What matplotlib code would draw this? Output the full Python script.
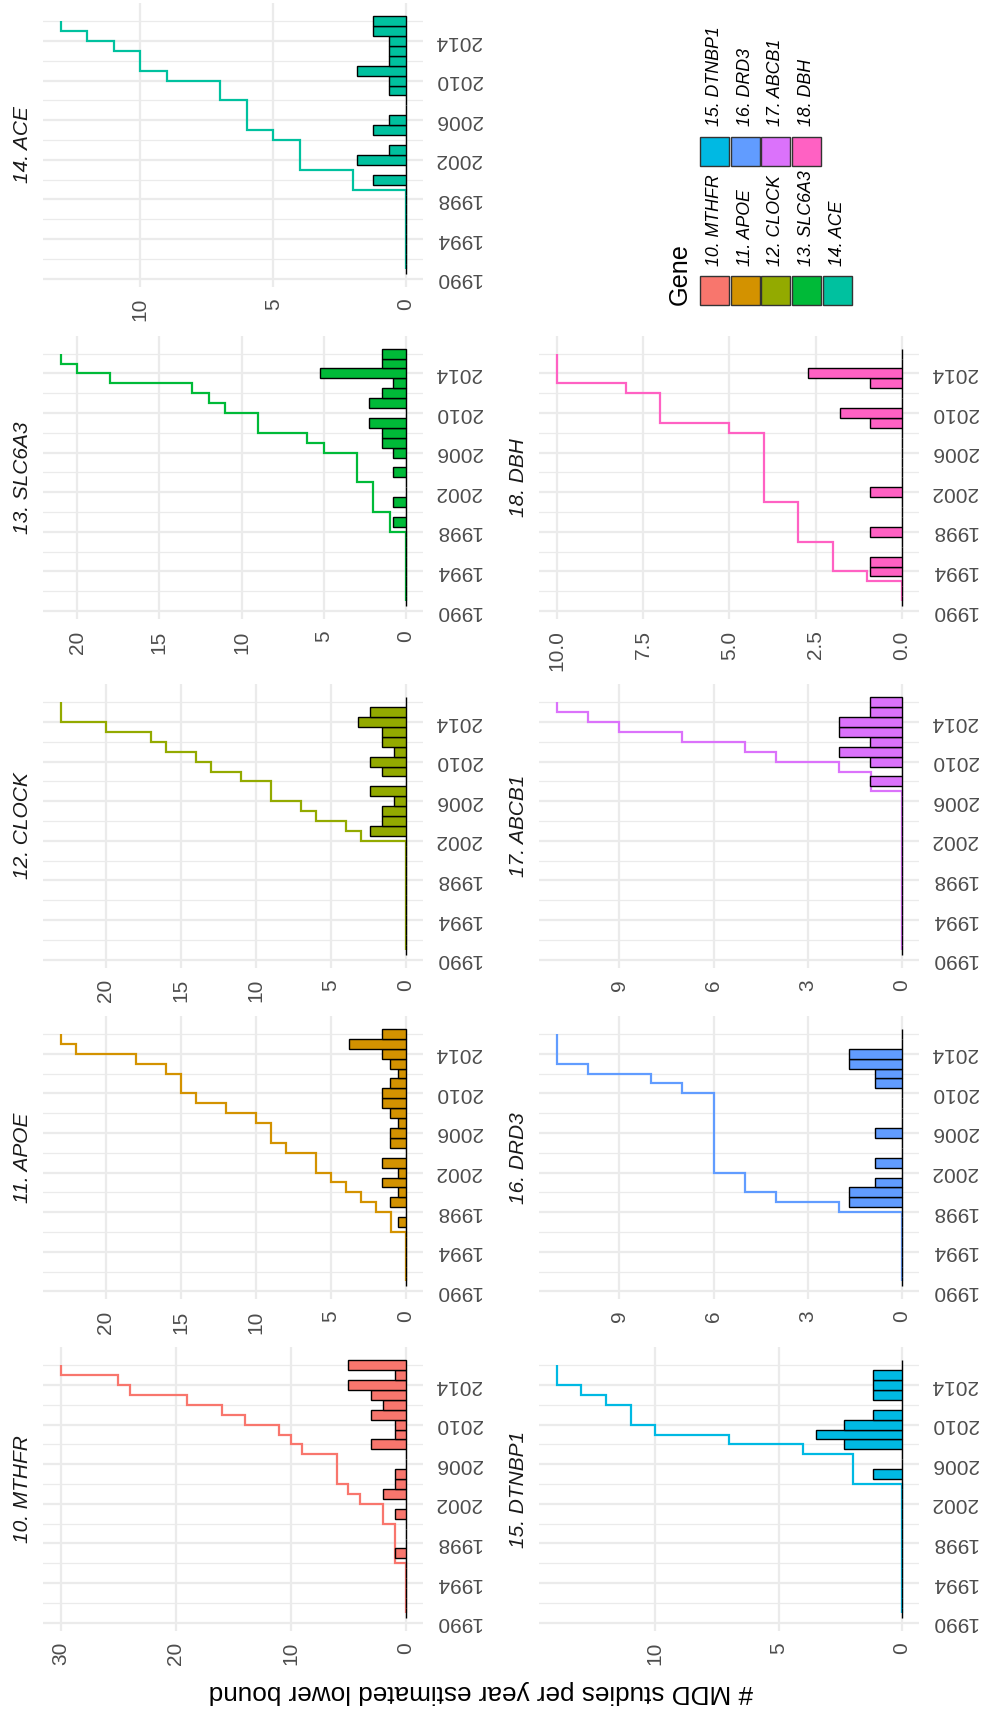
import numpy as np
import matplotlib
matplotlib.use("Agg")
import matplotlib.pyplot as plt
from matplotlib.patches import Rectangle

plt.rcParams["font.family"] = ["Liberation Sans", "DejaVu Sans"]

# one bar per year 1991..2016, the step line runs over the same years
BAR_YEARS = np.arange(1991, 2017)
STEP_EDGES = np.arange(1991, 2017)

GENES = ["10. MTHFR", "11. APOE", "12. CLOCK", "13. SLC6A3", "14. ACE",
         "15. DTNBP1", "16. DRD3", "17. ABCB1", "18. DBH"]
COLORS = ["#F8766D", "#D39200", "#93AA00", "#00BA38", "#00C19F",
          "#00B9E3", "#619CFF", "#DB72FB", "#FF61C3"]

# cumulative lower bound, value held from year Y to Y+1 (Y = 1991..2015)
MTHFR_CUM = [0, 0, 0, 0, 0, 1, 1, 1, 1, 2, 2, 4, 5, 6, 6, 6, 9, 10, 11, 14, 16, 19, 24, 25, 30]
APOE_CUM = [0, 0, 0, 0, 0, 1, 1, 2, 3, 4, 5, 6, 6, 8, 9, 9, 10, 12, 14, 15, 15, 16, 18, 22, 23]
CLOCK_CUM = [0, 0, 0, 0, 0, 0, 0, 0, 0, 0, 0, 3, 4, 6, 7, 9, 9, 11, 13, 14, 16, 17, 20, 23, 23]
SLC6A3_CUM = [0, 0, 0, 0, 0, 0, 0, 1, 1, 2, 2, 2, 3, 3, 3, 5, 6, 9, 9, 11, 12, 13, 18, 20, 21]
ACE_CUM = [0, 0, 0, 0, 0, 0, 0, 0, 2, 2, 4, 4, 4, 5, 6, 6, 6, 7, 7, 9, 10, 10, 11, 12, 13]
DTNBP1_CUM = [0, 0, 0, 0, 0, 0, 0, 0, 0, 0, 0, 0, 0, 2, 2, 2, 4, 7, 10, 11, 11, 12, 13, 14, 14]
DRD3_CUM = [0, 0, 0, 0, 0, 0, 0, 2, 4, 5, 5, 6, 6, 6, 6, 6, 6, 6, 6, 7, 8, 10, 11, 11, 11]
ABCB1_CUM = [0, 0, 0, 0, 0, 0, 0, 0, 0, 0, 0, 0, 0, 0, 0, 0, 1, 1, 2, 4, 5, 7, 9, 10, 11]
DBH_CUM = [0, 0, 1, 2, 2, 2, 3, 3, 3, 3, 4, 4, 4, 4, 4, 4, 4, 5, 7, 7, 7, 8, 10, 10, 10]

# studies per year (non-empty years only)
MTHFR_BAR_YR = [1997, 2001, 2003, 2004, 2005, 2008, 2009, 2010, 2011, 2012, 2013, 2014, 2015, 2016]
MTHFR_BAR = [1, 1, 2, 1, 1, 3, 1, 1, 3, 2, 3, 5, 1, 5]
APOE_BAR_YR = [1997, 1999, 2000, 2001, 2002, 2003, 2005, 2006, 2007, 2008, 2009, 2010,
               2011, 2012, 2013, 2014, 2015, 2016]
APOE_BAR = [0.56, 1.07, 0.56, 1.62, 0.56, 1.62, 1.07, 1.07, 0.56, 1.07, 1.62, 1.62,
            1.07, 0.56, 1.07, 1.62, 3.8, 1.62]
CLOCK_BAR_YR = [2003, 2004, 2005, 2006, 2007, 2009, 2010, 2011, 2012, 2013, 2014, 2015]
CLOCK_BAR = [2.4, 1.58, 1.58, 0.78, 2.4, 1.58, 2.4, 0.78, 1.58, 1.58, 3.18, 2.4]
SLC6A3_BAR_YR = [1999, 2001, 2004, 2006, 2007, 2008, 2009, 2011, 2012, 2013, 2014, 2015, 2016]
SLC6A3_BAR = [0.77, 0.77, 0.77, 0.77, 1.48, 1.48, 2.23, 2.23, 1.48, 0.77, 5.22, 1.48, 1.48]
ACE_BAR_YR = [2000, 2002, 2003, 2005, 2006, 2009, 2010, 2011, 2012, 2013, 2014, 2015, 2016]
ACE_BAR = [1.23, 1.83, 0.63, 1.23, 0.63, 0.63, 0.63, 1.83, 0.63, 0.63, 0.63, 1.23, 1.23]
DTNBP1_BAR_YR = [2005, 2008, 2009, 2010, 2011, 2013, 2014, 2015]
DTNBP1_BAR = [1.17, 2.36, 3.5, 2.36, 1.17, 1.17, 1.17, 1.17]
DRD3_BAR_YR = [1999, 2000, 2001, 2003, 2006, 2011, 2012, 2013, 2014]
DRD3_BAR = [1.7, 1.7, 0.85, 0.85, 0.85, 0.85, 0.85, 1.7, 1.7]
ABCB1_BAR_YR = [2008, 2010, 2011, 2012, 2013, 2014, 2015, 2016]
ABCB1_BAR = [1.01, 1.01, 2.0, 1.01, 2.0, 2.0, 1.01, 1.01]
DBH_BAR_YR = [1994, 1995, 1998, 2002, 2009, 2010, 2013, 2014]
DBH_BAR = [0.92, 0.92, 0.92, 0.92, 0.92, 1.81, 0.92, 2.71]

MTHFR_TICKS = [0, 10, 20, 30]
APOE_TICKS = [0, 5, 10, 15, 20]
CLOCK_TICKS = [0, 5, 10, 15, 20]
SLC6A3_TICKS = [0, 5, 10, 15, 20]
ACE_TICKS = [0, 5, 10]
DTNBP1_TICKS = [0, 5, 10]
DRD3_TICKS = [0, 3, 6, 9]
ABCB1_TICKS = [0, 3, 6, 9]
DBH_TICKS = [0, 2.5, 5, 7.5, 10]

CUMS = [MTHFR_CUM, APOE_CUM, CLOCK_CUM, SLC6A3_CUM, ACE_CUM,
        DTNBP1_CUM, DRD3_CUM, ABCB1_CUM, DBH_CUM]
BAR_YRS = [MTHFR_BAR_YR, APOE_BAR_YR, CLOCK_BAR_YR, SLC6A3_BAR_YR, ACE_BAR_YR,
           DTNBP1_BAR_YR, DRD3_BAR_YR, ABCB1_BAR_YR, DBH_BAR_YR]
BARS = [MTHFR_BAR, APOE_BAR, CLOCK_BAR, SLC6A3_BAR, ACE_BAR,
        DTNBP1_BAR, DRD3_BAR, ABCB1_BAR, DBH_BAR]
TICKS = [MTHFR_TICKS, APOE_TICKS, CLOCK_TICKS, SLC6A3_TICKS, ACE_TICKS,
         DTNBP1_TICKS, DRD3_TICKS, ABCB1_TICKS, DBH_TICKS]

# page is the landscape facet plot turned a quarter turn counter-clockwise
W, H = 982, 1713
PW, PH = 380, 283.2
COL_X = [43.3, 539.3]
ROW_Y = [3.4, 335.8, 684.4, 1016.1, 1347.4]
SLOT = [(0, 4), (0, 3), (0, 2), (0, 1), (0, 0), (1, 4), (1, 3), (1, 2), (1, 1)]
TICK_COLOR = "#4D4D4D"
GRID = "#EBEBEB"

fig = plt.figure(figsize=(W / 100, H / 100), dpi=100)

for i, gene in enumerate(GENES):
    c, r = SLOT[i]
    ax = fig.add_axes([COL_X[c] / W, 1 - (ROW_Y[r] + PH) / H, PW / W, PH / H])
    counts = np.zeros(len(BAR_YEARS))
    counts[np.array(BAR_YRS[i]) - BAR_YEARS[0]] = BARS[i]
    # step line sits under the bar outlines, so the empty years read dark
    ax.stairs(CUMS[i], STEP_EDGES, orientation="horizontal", baseline=None,
              color=COLORS[i], linewidth=1.6, zorder=2)
    ax.barh(BAR_YEARS, counts, height=1.0, color=COLORS[i],
            edgecolor="black", linewidth=1.0, zorder=3)

    top = max(max(CUMS[i]), max(BARS[i]))
    ax.set_xlim(top * 1.05, -top * 0.05)
    ax.set_ylim(1989.2, 2017.8)

    ax.set_xticks(TICKS[i])
    if gene.endswith("DBH"):
        ax.set_xticklabels([f"{t:.1f}" for t in TICKS[i]])
    else:
        ax.set_xticklabels([f"{t:d}" for t in TICKS[i]])
    ax.set_yticks(np.arange(1990, 2015, 4))
    ax.set_yticks(np.arange(1992, 2017, 4), minor=True)
    ax.yaxis.tick_right()

    ax.set_axisbelow(True)
    ax.grid(True, which="major", color=GRID, linewidth=1.6)
    ax.yaxis.grid(True, which="minor", color=GRID, linewidth=0.9)
    ax.tick_params(axis="both", which="both", length=0)
    ax.tick_params(axis="x", labelrotation=90, pad=8.2, labelsize=15, labelcolor=TICK_COLOR)
    ax.tick_params(axis="y", labelrotation=180, pad=8.4, labelsize=15, labelcolor=TICK_COLOR)
    for lab in ax.get_yticklabels():
        lab.set_va("center")
    for s in ax.spines.values():
        s.set_visible(False)

    ax.text(-20.5 / PW, 0.5, gene, transform=ax.transAxes, rotation=90,
            ha="center", va="center", fontsize=15, style="italic", color="#1A1A1A")

fig.text(481 / W, 1 - 1692 / H, "# MDD studies per year estimated lower bound",
         rotation=180, ha="center", va="center", fontsize=18.8)

# legend, drawn by hand because it is turned as well
lax = fig.add_axes([0, 0, 1, 1])
lax.set_xlim(0, W)
lax.set_ylim(H, 0)
lax.axis("off")
lax.text(680, 305, "Gene", rotation=90, ha="center", va="bottom", fontsize=18.2)
for k, gene in enumerate(GENES):
    grp, j = (0, k) if k < 5 else (1, k - 5)
    ky = 276 if grp == 0 else 137
    kx = 700 + j * 30.75
    lax.add_patch(Rectangle((kx, ky), 29, 29, facecolor=COLORS[k],
                            edgecolor="#333333", linewidth=1.0))
    lax.text(kx + 14.5, ky - 10.5, gene, rotation=90, ha="center", va="bottom",
             fontsize=12.8, style="italic")

fig.savefig("out.png", dpi=100, facecolor="white")
